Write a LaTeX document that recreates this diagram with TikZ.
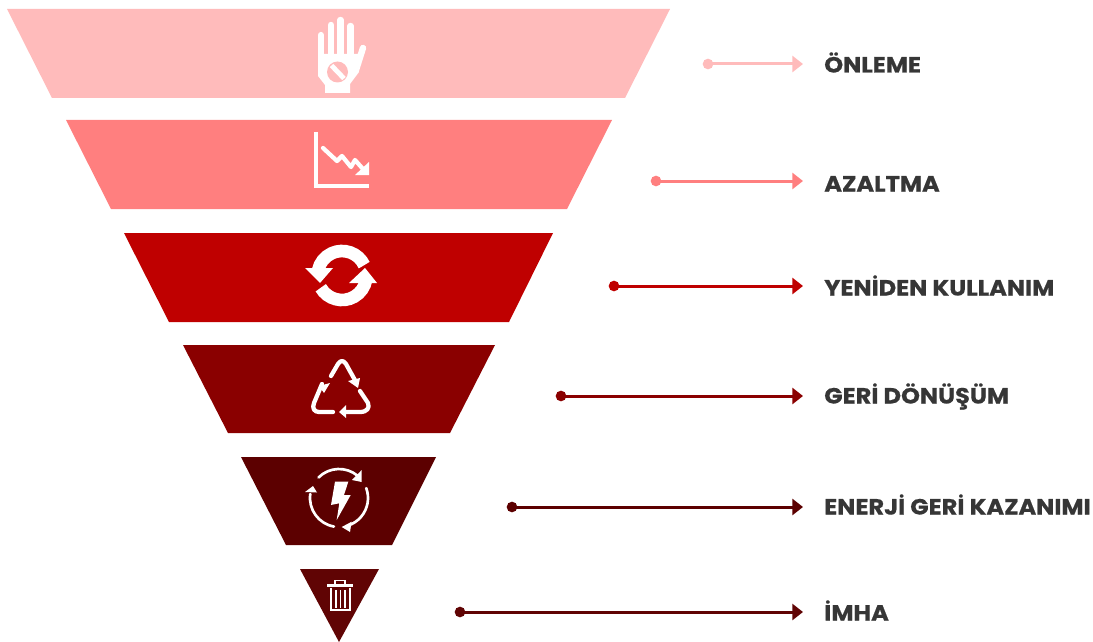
\documentclass[tikz,border=0pt]{standalone}
\usepackage{fontspec}
\setmainfont{Poppins}[BoldFont={Poppins Bold},BoldFeatures={FakeStretch=1.095,FakeBold=0.6}]
\usetikzlibrary{arrows.meta}
\definecolor{cA}{HTML}{FFBBBB}
\definecolor{cB}{HTML}{FF7F7F}
\definecolor{cC}{HTML}{BF0000}
\definecolor{cD}{HTML}{8A0000}
\definecolor{cE}{HTML}{5C0000}
\definecolor{cF}{HTML}{600404}
\definecolor{ink}{HTML}{363636}
\tikzset{
  lab/.style={anchor=base west,inner sep=0pt,text=ink,font=\fontsize{16.5pt}{18pt}\selectfont\bfseries},
  conn/.style={line width=2.25pt,-{Triangle[length=8pt,width=12pt]}},
  dotnode/.style={circle,inner sep=0pt,minimum size=8pt},
  ico/.style={draw=white,line cap=round,line join=round},
}
\begin{document}
\begin{tikzpicture}[x=0.75pt,y=-0.75pt]
\useasboundingbox (0,0) rectangle (1093,642);
% levels
\fill[cA] (7,9) -- (670,9) -- (625,98) -- (52,98) -- cycle;
\fill[cB] (66,120) -- (612,120) -- (567,209) -- (111,209) -- cycle;
\fill[cC] (124,233) -- (553,233) -- (509,322) -- (169,322) -- cycle;
\fill[cD] (183,345) -- (495,345) -- (450,433) -- (228,433) -- cycle;
\fill[cE] (241,457) -- (436,457) -- (392,545) -- (286,545) -- cycle;
\fill[cF] (300,569) -- (379,569) -- (339,642) -- cycle;
% hand
\draw[ico,line width=4.6pt] (321,35) -- (321,70);
\draw[ico,line width=4.8pt] (331,25) -- (331,65);
\draw[ico,line width=4.8pt] (340.5,20) -- (340.5,65);
\draw[ico,line width=4.8pt] (350.5,26) -- (350.5,65);
\draw[ico,line width=4.8pt] (363,48) -- (356,70);
\fill[white] (318,54) -- (358,54) -- (359,72) -- (350,84) -- (350,93) -- (325,93) -- (325,85) -- (318,76) -- cycle;
\fill[cA] (337.5,72) circle (10.5);
\draw[white,line width=3.6pt] (331.5,65.5) -- (344,78.5);
% chart
\draw[ico,line width=3pt,line cap=butt,line join=miter] (316,132) -- (316,186) -- (369,186);
\draw[ico,line width=3.2pt] (323,148) -- (337,161) -- (342,156) -- (351,167) -- (355,160) -- (363,169);
\fill[white] (369,162) -- (369,175) -- (355,175) -- cycle;
% refresh
\draw[white,line width=9.5pt] (342,275.5) ++(-25:24.5) arc (-25:-168:24.5);
\fill[white] (305,268) -- (333,268) -- (320,283) -- cycle;
\draw[white,line width=9.5pt] (342,275.5) ++(150:24.5) arc (150:10:24.5);
\fill[white] (365,268) -- (377,283) -- (349,283) -- cycle;
% recycling
\draw[ico,line width=3.2pt] (331,376) -- (338,364) .. controls (341,360) and (343,360) .. (346,364) -- (356,382);
\fill[white] (348,381) -- (360,378) -- (358,388) -- cycle;
\draw[ico,line width=3.2pt] (322,384) -- (314,403) .. controls (312,408) and (314,412) .. (319,412) -- (333,412);
\fill[white] (319,386) -- (330,383) -- (324,393) -- cycle;
\draw[ico,line width=3.2pt] (343,412) -- (360,412) .. controls (367,412) and (370,408) .. (368,403) -- (360,391);
\fill[white] (339,412) -- (346,405) -- (346,418) -- cycle;
% energy
\draw[ico,line width=2pt] (339,498) ++(-135:29) arc (-135:-50:29);
\fill[white] (361.7,470) -- (361.7,482) -- (352,480) -- cycle;
\draw[ico,line width=2pt] (339,498) ++(100:29) arc (100:188:29);
\fill[white] (305,492) -- (317,492.5) -- (313,486) -- cycle;
\draw[ico,line width=2pt] (339,498) ++(-20:29) arc (-20:72:29);
\fill[white] (341.7,527) -- (351.7,521.7) -- (350,532) -- cycle;
\fill[white] (335,481.7) -- (348.3,481.7) -- (344,495) -- (350.7,495) -- (336.7,520) -- (339.3,503.3) -- (331,505) -- cycle;
% trash
\draw[white,line width=1.6pt] (327,585.5) -- (353,585.5);
\draw[white,line width=1.4pt] (335,585) -- (335,580.5) -- (345,580.5) -- (345,585);
\draw[white,line width=1.4pt] (331,588) -- (331,610) -- (350,610) -- (350,588);
\foreach \q in {335.7,340.5,345.3} \draw[white,line width=1.3pt] (\q,590) -- (\q,608);
% connectors
\foreach \nm/\col/\sx/\yy/\by/\txt in {
 a/cA/708/64/72.5/ÖNLEME,
 b/cB/656/181/191.5/AZALTMA,
 c/cC/614/286/295.5/YENİDEN KULLANIM,
 d/cD/561/396/403.5/GERİ DÖNÜŞÜM,
 e/cE/512/507/514.5/ENERJİ GERİ KAZANIMI,
 f/cF/460/612/620.5/İMHA}{
  \node[dotnode,fill=\col] (s\nm) at (\sx,\yy) {};
  \coordinate (t\nm) at (803,\yy);
  \node[lab] (l\nm) at (824,\by) {\txt};
  \draw[conn,\col] (s\nm.center) -- (t\nm);
}
\end{tikzpicture}
\end{document}
